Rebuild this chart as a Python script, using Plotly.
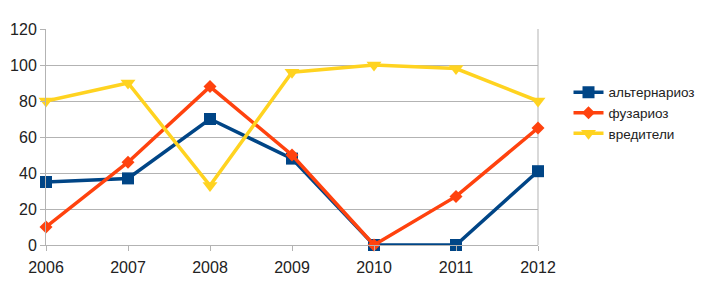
import plotly.graph_objects as go

years = ["2006", "2007", "2008", "2009", "2010", "2011", "2012"]
alternarioz = [35, 37, 70, 48, 0, 0, 41]
fuzarioz = [10, 46, 88, 50, 0, 27, 65]
vrediteli = [80, 90, 33, 96, 100, 98, 80]
y_ticks = [0, 20, 40, 60, 80, 100, 120]

fig = go.Figure()
fig.add_trace(go.Scatter(x=years, y=alternarioz, name="альтернариоз", mode="lines+markers",
                         line=dict(color="#004586", width=3.5),
                         marker=dict(symbol="square", size=12, color="#004586"), cliponaxis=False))
fig.add_trace(go.Scatter(x=years, y=fuzarioz, name="фузариоз", mode="lines+markers",
                         line=dict(color="#ff420e", width=3.5),
                         marker=dict(symbol="diamond", size=10, color="#ff420e"), cliponaxis=False))
fig.add_trace(go.Scatter(x=years, y=vrediteli, name="вредители", mode="lines+markers",
                         line=dict(color="#ffd320", width=3.5),
                         marker=dict(symbol="triangle-down", size=13, color="#ffd320"), cliponaxis=False))

fig.update_layout(
    width=707, height=297,
    margin=dict(l=38, r=177, t=21, b=60, autoexpand=False),
    paper_bgcolor="white", plot_bgcolor="white",
    font=dict(family="Liberation Sans, Arial, sans-serif", size=16, color="#222222"),
    legend=dict(x=1.062, y=0.778, xanchor="left", yanchor="top", font=dict(size=13.5),
                itemwidth=30, tracegroupgap=0, bgcolor="rgba(0,0,0,0)"),
    showlegend=True,
)
fig.update_xaxes(type="category", range=[0, 6], showgrid=False, showline=True,
                 linecolor="#b3b3b3", linewidth=1, ticks="outside", ticklen=5,
                 tickcolor="#b3b3b3", mirror=False, zeroline=False, automargin=False,
                 ticklabelstandoff=3)
fig.update_yaxes(range=[0, 120], tickvals=y_ticks, showgrid=True, gridcolor="#b3b3b3",
                 gridwidth=1, showline=True, linecolor="#b3b3b3", ticks="outside",
                 ticklen=5, tickcolor="#b3b3b3", zeroline=False, automargin=False)
fig.add_shape(type="line", xref="paper", yref="paper", x0=1, x1=1, y0=0, y1=1,
              line=dict(color="#b3b3b3", width=1), layer="below")

fig.write_html("out.html")
